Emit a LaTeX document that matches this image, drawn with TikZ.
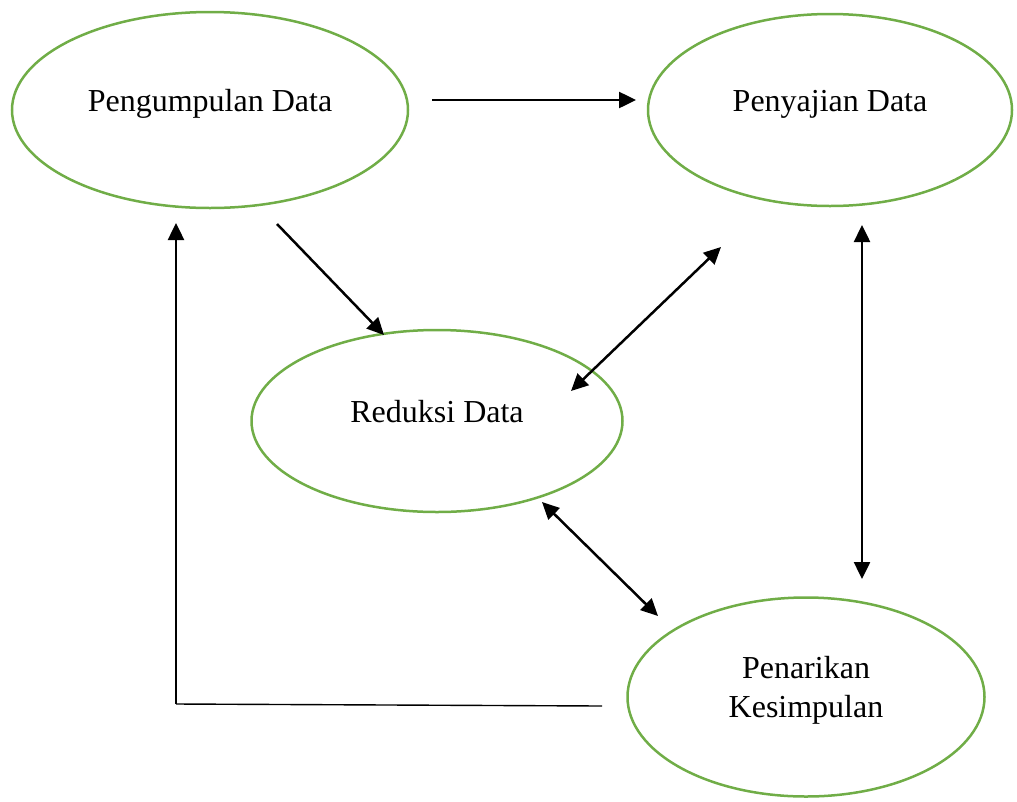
\documentclass[tikz,border=0pt]{standalone}
\usepackage{fontspec}
\setmainfont{Liberation Serif}
\usetikzlibrary{shapes.geometric,arrows.meta}
\definecolor{elgreen}{RGB}{112,173,71}
\newcommand{\eltext}[2][0pt]{\raisebox{#1}[0pt][0pt]{\begin{tabular}{@{}c@{}}#2\end{tabular}}}
\begin{document}
\begin{tikzpicture}[x=1pt,y=-1pt,
  el/.style={ellipse,draw=elgreen,line width=2.5pt,inner sep=0pt,align=center,font=\fontsize{32}{39}\selectfont},
  arr/.style={line width=2.5pt,-{Triangle[length=17pt,width=16pt]}},
  darr/.style={line width=2.5pt,{Triangle[length=17pt,width=16pt]}-{Triangle[length=17pt,width=16pt]}}]
\useasboundingbox (0,0) rectangle (1017,801);
\node[el,minimum width=396pt,minimum height=196pt] (pd) at (210,110) {\eltext{Pengumpulan Data}};
\node[el,minimum width=364pt,minimum height=192pt] (sd) at (830,110) {\eltext{Penyajian Data}};
\node[el,minimum width=371pt,minimum height=182pt] (rd) at (437,421) {\eltext{Reduksi Data}};
\node[el,minimum width=357pt,minimum height=199pt] (pk) at (806,697) {\eltext[1pt]{Penarikan\\Kesimpulan}};
\coordinate (a1) at (432,100);
\coordinate (a2) at (636,100);
\coordinate (b1) at (277,224);
\coordinate (b2) at (384,335);
\coordinate (c1) at (721,247);
\coordinate (c2) at (571,391);
\coordinate (d1) at (862,225);
\coordinate (d2) at (862,579);
\coordinate (e1) at (542,502);
\coordinate (e2) at (658,616);
\coordinate (f1) at (602,706);
\coordinate (f2) at (176,704);
\coordinate (f3) at (176,223);
\draw[arr] (a1) -- (a2);
\draw[arr] (b1) -- (b2);
\draw[darr] (c1) -- (c2);
\draw[darr] (d1) -- (d2);
\draw[darr] (e1) -- (e2);
\draw[line width=1.4pt] (f1) -- (f2);
\draw[arr] (f2) -- (f3);
\end{tikzpicture}
\end{document}
